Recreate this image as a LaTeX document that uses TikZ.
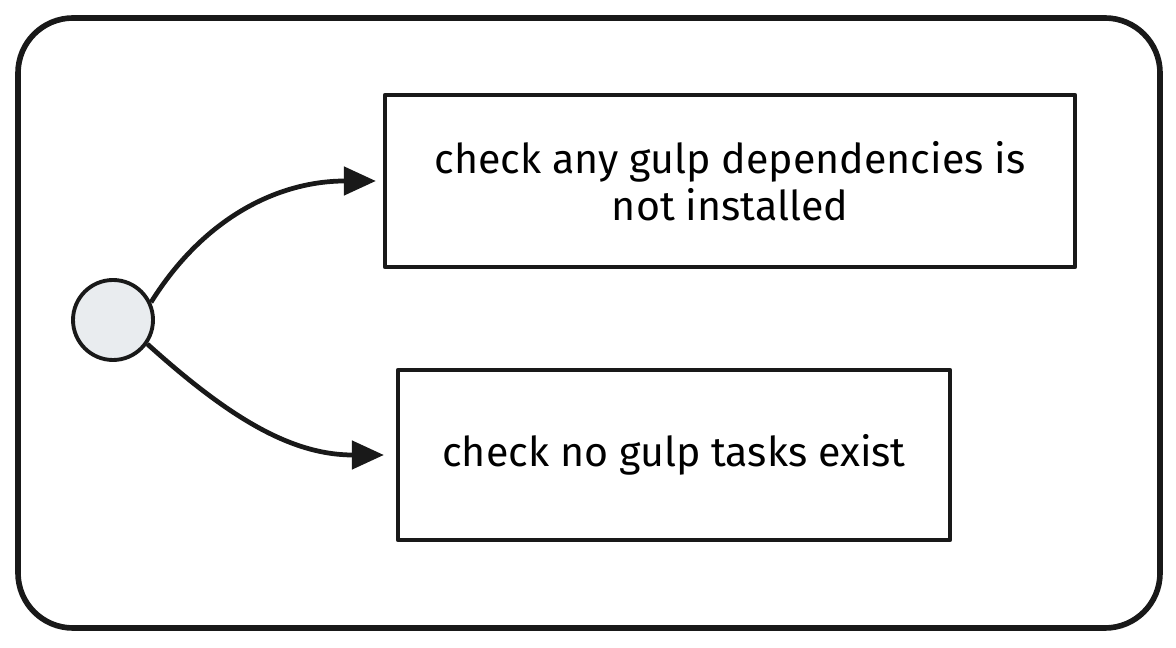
\documentclass[tikz,border=0pt]{standalone}
\usepackage{fontspec}
\setmainfont{Fira Sans}
\usetikzlibrary{arrows.meta,positioning}
\definecolor{startgray}{HTML}{E9ECEF}

\begin{document}
\begin{tikzpicture}[line join=round,
    >={Triangle[length=0.32cm,width=0.28cm]}]
  \tikzstyle{frameB}=[draw=black!90,line width=1.6pt,rounded corners=0.55cm]
  \tikzstyle{nodeS}=[circle,draw=black!90,line width=1.1pt,fill=startgray,minimum size=0.8cm,inner sep=0pt]
  \tikzstyle{nodeC}=[rectangle,draw=black!90,line width=1.2pt,align=center,font=\fontsize{11.7}{13.5}\selectfont]
  \tikzstyle{flow}=[->,line width=1.35pt,black!90]

  \useasboundingbox (0,0) rectangle (11.76,6.47);
  \draw[frameB] (0.18,6.29) rectangle (11.60,0.19);

  % Start and checks
  \node[nodeS]                                            (start) at (1.13,3.27) {};
  \node[nodeC, minimum width=6.9cm, minimum height=1.72cm] (deps)  at (7.30,4.66)
    {check any gulp dependencies is\\not installed};
  \node[nodeC, minimum width=5.52cm, minimum height=1.70cm] (tasks) at (6.74,1.92)
    {check no gulp tasks exist};

  \draw[flow, shorten >=0.07cm] (start.25)  to[out=58, in=180]  (deps.west);
  \draw[flow, shorten >=0.12cm] (start.-35) to[out=-42, in=180] (tasks.west);
\end{tikzpicture}
\end{document}
